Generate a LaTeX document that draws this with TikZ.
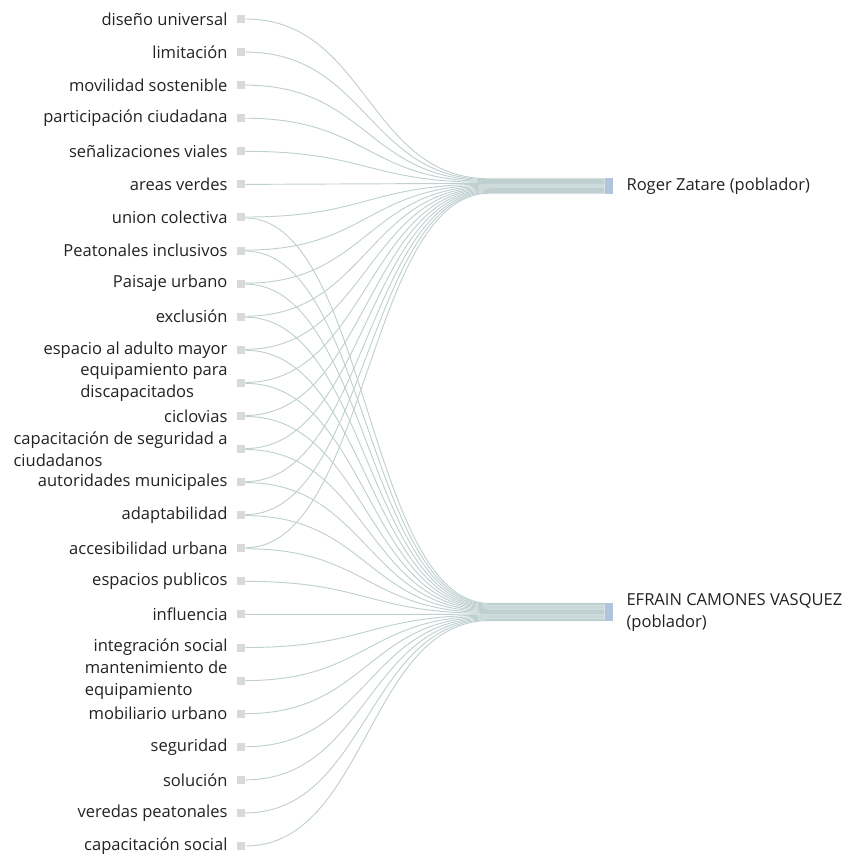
\documentclass[tikz,border=0pt]{standalone}
\usepackage{fontspec}
\setmainfont{Open Sans}
\usetikzlibrary{backgrounds}
\definecolor{txtc}{RGB}{34,34,34}
\definecolor{srcc}{RGB}{217,217,217}
\definecolor{tgtc}{RGB}{176,196,222}
\definecolor{linkc}{RGB}{192,208,208}
\begin{document}
\begin{tikzpicture}[x=0.75pt,y=-0.75pt,
 lbl/.style={font=\fontsize{12.4pt}{16.5pt}\selectfont,text=txtc,inner sep=0pt,align=left},
 src/.style={fill=srcc,minimum size=6pt,inner sep=0pt},
 tgt/.style={fill=tgtc,minimum width=6pt,inner sep=0pt},
 link/.style={draw=linkc,line width=0.7pt},
 ]
\useasboundingbox (0,0) rectangle (852,862);
% linke Seite
\foreach \i/\txt in {1/diseño universal,2/limitación,3/movilidad sostenible,
 4/participación ciudadana,5/señalizaciones viales,6/areas verdes,
 7/union colectiva,8/Peatonales inclusivos,9/Paisaje urbano,10/exclusión,
 11/espacio al adulto mayor,12/{equipamiento para\\discapacitados},13/ciclovias,
 14/{capacitación de seguridad a\\ciudadanos},15/autoridades municipales,
 16/adaptabilidad,17/accesibilidad urbana,18/espacios publicos,19/influencia,
 20/integración social,21/{mantenimiento de\\equipamiento},22/mobiliario urbano,
 23/seguridad,24/solución,25/veredas peatonales,26/capacitación social} {
 	\node[src] (s\i) at (241,{19+(\i-1)*33.08}) {};
 	\node[lbl,anchor=east] (l\i) at ([xshift=-6.75pt]s\i.west) {\txt};
 }
% rechte Seite
\node[tgt,minimum height=11.5pt] (roger) at (609,186) {};
\node[lbl,anchor=west] (lroger) at ([xshift=9.75pt]roger.east) {Roger Zatare (poblador)};
\node[tgt,minimum height=13.5pt] (efrain) at (609,612) {};
\node[lbl,anchor=west] (lefrain) at ([xshift=9.75pt]efrain.east) {EFRAIN CAMONES VASQUEZ\\(poblador)};

\begin{scope}[on background layer]
 \foreach \i in {1,...,17} {
 	\pgfmathsetmacro\ry{(8-(\i-1))*0.675}
 	\pgfmathsetmacro\sy{\i>6 ? 0.34 : 0}
 	\draw[link] ([yshift=\sy pt]s\i.east) .. controls +(122,0) and +(-122,0)
 		.. ([xshift=-86.25pt,yshift=\ry pt]roger.west) -- ([yshift=\ry pt]roger.west);
 }
 \foreach \i in {7,...,26} {
 	\pgfmathsetmacro\ry{(9.5-(\i-7))*0.675}
 	\pgfmathsetmacro\sy{\i<18 ? -0.34 : 0}
 	\draw[link] ([yshift=\sy pt]s\i.east) .. controls +(122,0) and +(-122,0)
 		.. ([xshift=-86.25pt,yshift=\ry pt]efrain.west) -- ([yshift=\ry pt]efrain.west);
 }
\end{scope}
\end{tikzpicture}
\end{document}
